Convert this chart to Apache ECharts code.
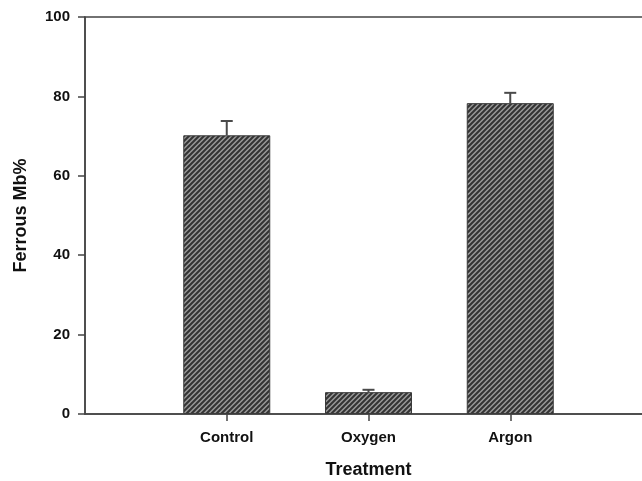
<!DOCTYPE html>
<html>
<head>
<meta charset="utf-8">
<script src="https://cdn.jsdelivr.net/npm/echarts@6/dist/echarts.min.js"></script>
<style>
  html, body { margin: 0; padding: 0; background: #fff; }
  #chart { width: 642px; height: 481px; }
</style>
</head>
<body>
<div id="chart"></div>
<script>
// Treatment groups (empty slots pad the axis at both ends)
const categories = ['', 'Control', 'Oxygen', 'Argon', ''];
// Mean ferrous myoglobin (%) per treatment
const meanValues = [null, 70.2, 5.5, 78.3, null];
// Upper error (SD) per treatment
const errorValues = [null, 3.6, 0.6, 2.6, null];
// Y axis tick range
const yMin = 0, yMax = 100, yStep = 20;

const FONT = '"Liberation Sans", Arial, Helvetica, sans-serif';
const AXIS_COLOR = '#444';
const TEXT_COLOR = '#111';

// Diagonal hatch tile for the bars
function makeHatch() {
  const s = 10;
  const c = document.createElement('canvas');
  c.width = s; c.height = s;
  const ctx = c.getContext('2d');
  ctx.fillStyle = '#999999';
  ctx.fillRect(0, 0, s, s);
  ctx.strokeStyle = '#333333';
  ctx.lineWidth = 2;
  for (let k = -2; k <= 6; k++) {
    const off = k * s / 2;
    ctx.beginPath();
    ctx.moveTo(off + 1, -1);
    ctx.lineTo(off - s - 1, s + 1);
    ctx.stroke();
  }
  return c;
}

const chart = echarts.init(document.getElementById('chart'), null, { renderer: 'canvas' });

const errorData = categories.map((c, i) =>
  meanValues[i] == null ? null : [i, meanValues[i], meanValues[i] + errorValues[i]]
).filter(d => d);

chart.setOption({
  animation: false,
  backgroundColor: '#fff',
  grid: {
    left: 85, top: 17, width: 567, height: 397,
    containLabel: false,
    outerBoundsMode: 'none',
    show: true, borderColor: AXIS_COLOR, borderWidth: 1.5, backgroundColor: 'transparent'
  },
  xAxis: {
    type: 'category',
    data: categories,
    boundaryGap: false,
    name: 'Treatment',
    nameLocation: 'middle',
    nameGap: 47,
    nameTextStyle: { fontFamily: FONT, fontWeight: 'bold', fontSize: 18, color: TEXT_COLOR },
    axisLine: { lineStyle: { color: AXIS_COLOR, width: 1.5 } },
    axisTick: { length: 7, interval: (i) => i >= 1 && i <= 3, lineStyle: { color: AXIS_COLOR, width: 1.5 } },
    axisLabel: { interval: 0, margin: 16, fontFamily: FONT, fontWeight: 'bold', fontSize: 15, color: TEXT_COLOR },
    splitLine: { show: false }
  },
  yAxis: {
    type: 'value',
    min: yMin, max: yMax, interval: yStep,
    name: 'Ferrous Mb%',
    nameLocation: 'middle',
    nameGap: 55,
    nameTextStyle: { fontFamily: FONT, fontWeight: 'bold', fontSize: 18, color: TEXT_COLOR },
    axisLine: { show: true, lineStyle: { color: AXIS_COLOR, width: 1.5 } },
    axisTick: { show: true, length: 7, lineStyle: { color: AXIS_COLOR, width: 1.5 } },
    axisLabel: { margin: 15, fontFamily: FONT, fontWeight: 'bold', fontSize: 15, color: TEXT_COLOR },
    splitLine: { show: false }
  },
  series: [
    {
      type: 'bar',
      data: meanValues.map(v => v == null ? '-' : v),
      barWidth: 87,
      itemStyle: {
        color: { image: makeHatch(), repeat: 'repeat' },
        borderColor: '#3a3a3a',
        borderWidth: 1
      },
      z: 2
    },
    {
      type: 'custom',
      data: errorData,
      z: 3,
      renderItem: function (params, api) {
        const x = api.value(0);
        const top = api.coord([x, api.value(2)]);
        const base = api.coord([x, api.value(1)]);
        const half = 6;
        const style = { stroke: '#4a4a4a', lineWidth: 2 };
        return {
          type: 'group',
          children: [
            { type: 'line', shape: { x1: top[0], y1: base[1], x2: top[0], y2: top[1] }, style: style },
            { type: 'line', shape: { x1: top[0] - half, y1: top[1], x2: top[0] + half, y2: top[1] }, style: style }
          ]
        };
      }
    }
  ]
});
</script>
</body>
</html>
